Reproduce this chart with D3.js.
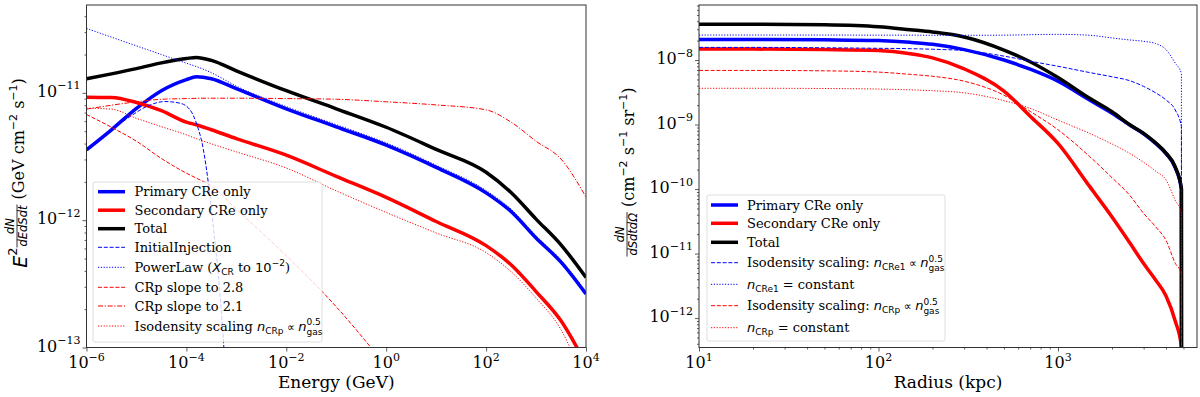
<!DOCTYPE html>
<html><head><meta charset="utf-8">
<script src="https://cdn.jsdelivr.net/npm/d3@7"></script>
<style>body{margin:0;background:#fff} svg{display:block} text{white-space:pre}</style>
</head><body>
<svg id="c" width="1200" height="397"></svg>
<script>
// ---------------- DATA ----------------
// Left panel: E^2 dN/dEdSdt vs Energy (GeV)
const energy = [1e-6, 3.16e-6, 1e-5, 3.16e-5, 1e-4, 1.58e-4, 3.16e-4, 1e-3, 1e-2, 1e-1, 1, 10, 100, 316, 1000, 3160, 1e4];
const primaryE   = [3.57e-12, 5.13e-12, 7.55e-12, 1.04e-11, 1.27e-11, 1.34e-11, 1.29e-11, 1.08e-11, 7.5e-12, 5.41e-12, 3.89e-12, 2.6e-12, 1.64e-12, 1.17e-12, 7.24e-13, 4.68e-13, 2.63e-13];
const secondaryE = [9.25e-12, 9.2e-12, 8.4e-12, 7.24e-12, 5.89e-12, 5.62e-12, 5.13e-12, 4.37e-12, 3.24e-12, 2.21e-12, 1.51e-12, 9.77e-13, 6.31e-13, 4.47e-13, 2.75e-13, 1.62e-13, 7.4e-14];
const totalE     = [1.29e-11, 1.41e-11, 1.55e-11, 1.72e-11, 1.86e-11, 1.9e-11, 1.8e-11, 1.49e-11, 1.04e-11, 7.5e-12, 5.37e-12, 3.6e-12, 2.38e-12, 1.65e-12, 1.02e-12, 6.4e-13, 3.55e-13];
const powerLawE  = [3.21e-11, 2.74e-11, 2.34e-11, 2.0e-11, 1.71e-11, 1.61e-11, 1.44e-11, 1.13e-11, 7.8e-12, 5.63e-12, 4.05e-12, 2.7e-12, 1.71e-12, 1.22e-12, 7.53e-13, 4.87e-13, 2.74e-13];
const slope21E   = [7.45e-12, 8.0e-12, 8.51e-12, 8.91e-12, 9.02e-12, 9.06e-12, 9.08e-12, 9.08e-12, 9.02e-12, 8.91e-12, 8.51e-12, 8.04e-12, 7.36e-12, 5.89e-12, 4.17e-12, 3.02e-12, 1.52e-12];
const isoCRpE    = [7.59e-12, 7.45e-12, 6.31e-12, 5.43e-12, 4.68e-12, 4.37e-12, 3.98e-12, 3.44e-12, 2.57e-12, 1.7e-12, 1.15e-12, 7.94e-13, 5.56e-13, 3.94e-13, 2.45e-13, 1.38e-13, 5e-14];
const energy28   = [1e-6, 3.16e-6, 1e-5, 3.16e-5, 1e-4, 1.58e-4, 3.16e-4, 1e-3, 1e-2, 1e-1, 1];
const slope28E   = [6.76e-12, 5.37e-12, 4.17e-12, 3.05e-12, 2.34e-12, 2.14e-12, 1.86e-12, 1.22e-12, 5.25e-13, 2.09e-13, 7.1e-14];
const energyInj  = [1e-6, 3.16e-6, 7.4e-6, 1.58e-5, 3.7e-5, 7.4e-5, 1.17e-4, 1.58e-4, 2.19e-4, 2.75e-4, 3.55e-4, 4.68e-4, 6.3e-4];
const injectionE = [3.57e-12, 5.13e-12, 6.5e-12, 7.8e-12, 8.55e-12, 8.3e-12, 7.4e-12, 5.8e-12, 3.57e-12, 1.96e-12, 8.1e-13, 2.7e-13, 5e-14];

// Right panel: dN/dSdtdΩ vs Radius (kpc)
const radius = [10, 20, 50, 100, 150, 200, 300, 500, 700, 1000, 1500, 2000, 2500, 3000, 3500, 4000, 4500, 4870, 4880];
const primaryR   = [2.09e-8, 2.09e-8, 2.06e-8, 2.0e-8, 1.88e-8, 1.75e-8, 1.45e-8, 1.0e-8, 7.2e-9, 4.7e-9, 2.4e-9, 1.5e-9, 9.9e-10, 7.2e-10, 5.1e-10, 3.55e-10, 2.15e-10, 1.0e-10, 1e-14];
const secondaryR = [1.48e-8, 1.48e-8, 1.45e-8, 1.4e-8, 1.25e-8, 1.08e-8, 7.3e-9, 3.3e-9, 1.35e-9, 5.1e-10, 1.1e-10, 3.7e-11, 1.5e-11, 7e-12, 3.9e-12, 2.2e-12, 9e-13, 3.6e-13, 1e-14];
const totalR     = [3.6e-8, 3.6e-8, 3.52e-8, 3.28e-8, 2.95e-8, 2.72e-8, 2.28e-8, 1.43e-8, 9.4e-9, 5.35e-9, 2.55e-9, 1.58e-9, 1.0e-9, 7.3e-10, 5.2e-10, 3.6e-10, 2.2e-10, 1.02e-10, 1e-14];
const isoCRe1R   = [1.57e-8, 1.57e-8, 1.55e-8, 1.52e-8, 1.5e-8, 1.47e-8, 1.4e-8, 1.15e-8, 9.6e-9, 8e-9, 6.4e-9, 5.5e-9, 4.8e-9, 3.9e-9, 3.1e-9, 2.4e-9, 1.68e-9, 9.3e-10, 1e-14];
const constCRe1R = [2.44e-8, 2.44e-8, 2.44e-8, 2.43e-8, 2.43e-8, 2.42e-8, 2.42e-8, 2.43e-8, 2.47e-8, 2.5e-8, 2.42e-8, 2.2e-8, 2.05e-8, 1.95e-8, 1.8e-8, 1.45e-8, 9e-9, 6.2e-9, 1e-14];
const isoCRpR    = [6.9e-9, 6.9e-9, 6.8e-9, 6.5e-9, 6.0e-9, 5.6e-9, 4.7e-9, 2.85e-9, 1.6e-9, 8.3e-10, 3.2e-10, 1.5e-10, 8.1e-11, 4.2e-11, 2.6e-11, 1.6e-11, 7.1e-12, 4.9e-12, 1e-14];
const constCRpR  = [3.65e-9, 3.65e-9, 3.62e-9, 3.55e-9, 3.45e-9, 3.35e-9, 3.1e-9, 2.35e-9, 1.78e-9, 1.17e-9, 7.3e-10, 5e-10, 3.6e-10, 2.6e-10, 1.9e-10, 1.38e-10, 6.7e-11, 4.2e-11, 1e-14];

// Tick values
const xTicksL = [1e-6, 1e-4, 1e-2, 1, 1e2, 1e4];
const xTickExpL = ['−6', '−4', '−2', '0', '2', '4'];
const yTicksL = [1e-13, 1e-12, 1e-11];
const yTickExpL = ['−13', '−12', '−11'];
const xTicksR = [10, 100, 1000];
const xTickExpR = ['1', '2', '3'];
const yTicksR = [1e-12, 1e-11, 1e-10, 1e-9, 1e-8];
const yTickExpR = ['−12', '−11', '−10', '−9', '−8'];

// ---------------- DRAWING ----------------
const svg = d3.select('#c');
const SERIF = "'DejaVu Serif', 'Liberation Serif', serif", SANS = "'DejaVu Sans', sans-serif";

function rich(parent, x, y, segs, anchor) {
  const g = parent.append('g');
  let cx = 0, prevStart = 0, prevW = 0;
  const len = t => { const v = t.node().getComputedTextLength(); return isFinite(v) ? v : 0; };
  segs.forEach(s => {
    if (s.frac) {
      const n = g.append('text').attr('text-anchor', 'middle').attr('y', s.numDy)
        .style('font-family', SANS).style('font-style', 'italic').style('font-size', s.s + 'px').text(s.num);
      const d = g.append('text').attr('text-anchor', 'middle').attr('y', s.denDy)
        .style('font-family', SANS).style('font-style', 'italic').style('font-size', s.s + 'px').text(s.den);
      const w = Math.max(len(n), len(d)) + 2;
      n.attr('x', cx + w / 2); d.attr('x', cx + w / 2);
      g.append('line').attr('x1', cx).attr('x2', cx + w).attr('y1', s.barDy).attr('y2', s.barDy)
        .attr('stroke', '#000').attr('stroke-width', 0.8);
      prevStart = cx; prevW = w; cx += w;
      return;
    }
    const t = g.append('text').attr('y', s.dy || 0)
      .style('font-family', s.f === 'sans' ? SANS : SERIF)
      .style('font-size', s.s + 'px').style('font-style', s.it ? 'italic' : 'normal')
      .attr('fill', '#000').text(s.t);
    const w = len(t);
    if (s.stack) { t.attr('x', prevStart); const nw = Math.max(prevW, w); cx = prevStart + nw; prevW = nw; }
    else { t.attr('x', cx); prevStart = cx; prevW = w; cx += w; }
  });
  const off = anchor === 'middle' ? -cx / 2 : anchor === 'end' ? -cx : 0;
  g.attr('transform', `translate(${x + off},${y})`);
  return g;
}

function minorTicks(domain) {
  const out = [];
  const lo = Math.floor(Math.log10(domain[0])), hi = Math.ceil(Math.log10(domain[1]));
  for (let e = lo; e <= hi; e++) for (let m = 2; m <= 9; m++) {
    const v = m * Math.pow(10, e);
    if (v >= domain[0] && v <= domain[1]) out.push(v);
  }
  return out;
}

function panel(cfg) {
  const { x, y, box, id } = cfg;
  svg.append('clipPath').attr('id', id).append('rect')
    .attr('x', box.x0).attr('y', box.y0).attr('width', box.x1 - box.x0).attr('height', box.y1 - box.y0);
  const plot = svg.append('g').attr('clip-path', `url(#${id})`);
  const line = d3.line().x(d => x(d[0])).y(d => y(d[1])).curve(d3.curveMonotoneX);
  cfg.series.forEach(s => {
    plot.append('path').datum(s.xs.map((v, i) => [v, s.ys[i]]))
      .attr('d', line).attr('fill', 'none').attr('stroke', s.color)
      .attr('stroke-width', s.w).attr('stroke-dasharray', s.dash || null)
      .attr('stroke-linejoin', 'round');
  });
  // axes
  const ax = svg.append('g').attr('transform', `translate(0,${box.y1})`)
    .call(d3.axisBottom(x).tickValues(cfg.xTicks).tickSize(4).tickFormat(''));
  const ay = svg.append('g').attr('transform', `translate(${box.x0},0)`)
    .call(d3.axisLeft(y).tickValues(cfg.yTicks).tickSize(4).tickFormat(''));
  const ayMinor = svg.append('g').attr('transform', `translate(${box.x0},0)`)
    .call(d3.axisLeft(y).tickValues(minorTicks(y.domain())).tickSize(2).tickFormat(''));
  let axMinor = null;
  if (cfg.xMinor) axMinor = svg.append('g').attr('transform', `translate(0,${box.y1})`)
    .call(d3.axisBottom(x).tickValues(minorTicks(x.domain())).tickSize(2).tickFormat(''));
  [ax, ay, ayMinor, axMinor].forEach(a => {
    if (!a) return;
    a.select('.domain').remove();
    a.selectAll('line').attr('stroke', '#333').attr('stroke-width', 0.8);
  });
  svg.append('rect').attr('x', box.x0).attr('y', box.y0).attr('width', box.x1 - box.x0)
    .attr('height', box.y1 - box.y0).attr('fill', 'none').attr('stroke', '#333').attr('stroke-width', 1);
  // tick labels
  cfg.xTicks.forEach((v, i) => rich(svg, x(v), box.y1 + 20.5,
    [{ t: '10', s: 16 }, { t: cfg.xExp[i], s: 11, dy: -7.5 }], 'middle'));
  cfg.yTicks.forEach((v, i) => rich(svg, box.x0 - 6, y(v) + 4,
    [{ t: '10', s: 16 }, { t: cfg.yExp[i], s: 11, dy: -7.5 }], 'end'));
  // axis title
  svg.append('text').attr('x', (box.x0 + box.x1) / 2).attr('y', 388).attr('text-anchor', 'middle')
    .style('font-family', SERIF).style('font-size', '17px').text(cfg.xTitle);
  // y title (rotated)
  const gy = svg.append('g').attr('transform', `translate(${cfg.yTitleX},${cfg.yTitleY}) rotate(-90)`);
  rich(gy, 0, 0, cfg.yTitle, 'middle');
  // legend
  const L = cfg.legend;
  svg.append('rect').attr('x', L.x).attr('y', L.y).attr('width', L.w).attr('height', L.h)
    .attr('rx', 2).attr('fill', '#fff').attr('fill-opacity', 0.8).attr('stroke', '#d6d6d6').attr('stroke-width', 0.8);
  L.items.forEach((it, i) => {
    const yy = L.rows[i];
    svg.append('line').attr('x1', L.hx0).attr('x2', L.hx1).attr('y1', yy).attr('y2', yy)
      .attr('stroke', it.color).attr('stroke-width', it.w).attr('stroke-dasharray', it.dash || null);
    rich(svg, L.tx, yy + 4.5, it.label, 'start');
  });
}

const DASH = '4,1.8', DOT = '1.2,1.6', DASHDOT = '5,1.7,1.2,1.7';
const BLUE = '#0000ff', RED = '#ff0000', BLACK = '#000000';

const fs = 13;
const n_sub = (sub) => [{ t: 'n', f: 'sans', it: true, s: fs }, { t: sub, f: 'sans', s: 9, dy: 3 }];
const ngas = [{ t: 'n', f: 'sans', it: true, s: fs }, { t: '0.5', f: 'sans', s: 9, dy: -5.5 }, { t: 'gas', f: 'sans', s: 9, dy: 4, stack: true }];
const sup = (t) => ({ t, f: 'sans', s: 11, dy: -7 });

// LEFT PANEL
const boxL = { x0: 86.5, x1: 586, y0: 5, y1: 347.5 };
const xL = d3.scaleLog().domain([1e-6, 1e4]).range([boxL.x0, boxL.x1]);
const yL = d3.scaleLog().domain([1e-13, 4.9e-11]).range([boxL.y1, boxL.y0]);
panel({
  id: 'clipL', x: xL, y: yL, box: boxL,
  xTicks: xTicksL, xExp: xTickExpL, yTicks: yTicksL, yExp: yTickExpL, xMinor: false,
  xTitle: 'Energy (GeV)', yTitleX: 24, yTitleY: 173,
  yTitle: [{ t: 'E', f: 'sans', it: true, s: 19, dy: 2.5 }, { t: '2', f: 'sans', s: 13, dy: -7.5 },
    { frac: true, num: 'dN', den: 'dEdSdt', s: 11.5, numDy: -10.5, denDy: 2.5, barDy: -7 },
    { t: ' (GeV cm', s: 16 }, sup('−2'), { t: ' s', s: 16 }, sup('−1'), { t: ')', s: 16 }],
  series: [
    { xs: energy, ys: primaryE, color: BLUE, w: 3.5 },
    { xs: energy, ys: secondaryE, color: RED, w: 3.5 },
    { xs: energy, ys: totalE, color: BLACK, w: 3.5 },
    { xs: energyInj, ys: injectionE, color: BLUE, w: 1, dash: DASH },
    { xs: energy, ys: powerLawE, color: BLUE, w: 1, dash: DOT },
    { xs: energy28, ys: slope28E, color: RED, w: 1, dash: DASH },
    { xs: energy, ys: slope21E, color: RED, w: 1, dash: DASHDOT },
    { xs: energy, ys: isoCRpE, color: RED, w: 1, dash: DOT }
  ],
  legend: {
    x: 93, y: 182, w: 229, h: 160, hx0: 98, hx1: 125, tx: 134.5,
    rows: [191.7, 210.2, 228.7, 247.3, 267.3, 287.3, 306, 326],
    items: [
      { color: BLUE, w: 3.5, label: [{ t: 'Primary CRe only', s: fs }] },
      { color: RED, w: 3.5, label: [{ t: 'Secondary CRe only', s: fs }] },
      { color: BLACK, w: 3.5, label: [{ t: 'Total', s: fs }] },
      { color: BLUE, w: 1, dash: DASH, label: [{ t: 'InitialInjection', s: fs }] },
      { color: BLUE, w: 1, dash: DOT, label: [{ t: 'PowerLaw (', s: fs }, { t: 'X', f: 'sans', it: true, s: fs },
        { t: 'CR', f: 'sans', s: 9, dy: 3 }, { t: ' to ', s: fs }, { t: '10', f: 'sans', s: fs },
        { t: '−2', f: 'sans', s: 9, dy: -5.5 }, { t: ')', s: fs }] },
      { color: RED, w: 1, dash: DASH, label: [{ t: 'CRp slope to 2.8', s: fs }] },
      { color: RED, w: 1, dash: DASHDOT, label: [{ t: 'CRp slope to 2.1', s: fs }] },
      { color: RED, w: 1, dash: DOT, label: [{ t: 'Isodensity scaling ', s: fs }, ...n_sub('CRp'),
        { t: ' ∝ ', f: 'sans', s: 11 }, ...ngas] }
    ]
  }
});

// RIGHT PANEL
const boxR = { x0: 699, x1: 1197, y0: 5, y1: 347.5 };
const xR = d3.scaleLog().domain([10, 5950]).range([boxR.x0, boxR.x1]);
const yR = d3.scaleLog().domain([3.5e-13, 7.13e-8]).range([boxR.y1, boxR.y0]);
panel({
  id: 'clipR', x: xR, y: yR, box: boxR,
  xTicks: xTicksR, xExp: xTickExpR, yTicks: yTicksR, yExp: yTickExpR, xMinor: true,
  xTitle: 'Radius (kpc)', yTitleX: 634, yTitleY: 172,
  yTitle: [{ frac: true, num: 'dN', den: 'dSdtdΩ', s: 11.5, numDy: -10.5, denDy: 2.5, barDy: -7 },
    { t: ' (cm', s: 16 }, sup('−2'), { t: ' s', s: 16 }, sup('−1'), { t: ' sr', s: 16 }, sup('−1'), { t: ')', s: 16 }],
  series: [
    { xs: radius, ys: primaryR, color: BLUE, w: 3.5 },
    { xs: radius, ys: secondaryR, color: RED, w: 3.5 },
    { xs: radius, ys: totalR, color: BLACK, w: 3.5 },
    { xs: radius, ys: isoCRe1R, color: BLUE, w: 1, dash: DASH },
    { xs: radius, ys: constCRe1R, color: BLUE, w: 1, dash: DOT },
    { xs: radius, ys: isoCRpR, color: RED, w: 1, dash: DASH },
    { xs: radius, ys: constCRpR, color: RED, w: 1, dash: DOT }
  ],
  legend: {
    x: 707, y: 195, w: 238, h: 146, hx0: 711, hx1: 738, tx: 747,
    rows: [205, 223.3, 242.3, 262.7, 284.3, 305.7, 327.7],
    items: [
      { color: BLUE, w: 3.5, label: [{ t: 'Primary CRe only', s: fs }] },
      { color: RED, w: 3.5, label: [{ t: 'Secondary CRe only', s: fs }] },
      { color: BLACK, w: 3.5, label: [{ t: 'Total', s: fs }] },
      { color: BLUE, w: 1, dash: DASH, label: [{ t: 'Isodensity scaling: ', s: fs }, ...n_sub('CRe1'),
        { t: ' ∝ ', f: 'sans', s: 11 }, ...ngas] },
      { color: BLUE, w: 1, dash: DOT, label: [...n_sub('CRe1'), { t: ' = ', f: 'sans', s: fs }, { t: 'constant', s: fs }] },
      { color: RED, w: 1, dash: DASH, label: [{ t: 'Isodensity scaling: ', s: fs }, ...n_sub('CRp'),
        { t: ' ∝ ', f: 'sans', s: 11 }, ...ngas] },
      { color: RED, w: 1, dash: DOT, label: [...n_sub('CRp'), { t: ' = ', f: 'sans', s: fs }, { t: 'constant', s: fs }] }
    ]
  }
});
</script>
</body></html>
